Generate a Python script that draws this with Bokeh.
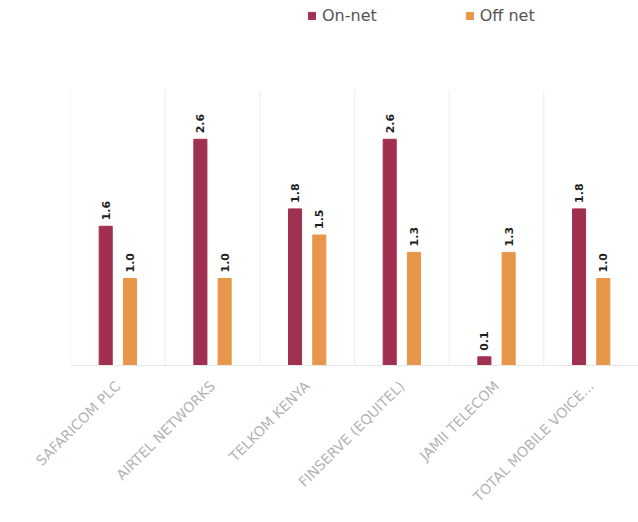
import math
from bokeh.plotting import figure
from bokeh.models import ColumnDataSource, FixedTicker, Range1d, Legend, LegendItem, LabelSet
from bokeh.core.properties import value
from bokeh.embed import file_html
from bokeh.resources import INLINE

categories = ["SAFARICOM PLC", "AIRTEL NETWORKS", "TELKOM KENYA",
              "FINSERVE (EQUITEL)", "JAMII TELECOM", "TOTAL MOBILE VOICE..."]
on_net = [1.6, 2.6, 1.8, 2.6, 0.1, 1.8]
off_net = [1.0, 1.0, 1.5, 1.3, 1.3, 1.0]
series_names = ["On-net", "Off net"]
colors = ["#A0304F", "#E8964A"]

n = len(categories)
dodge = 0.128
bw = 0.138
centers = [i + 0.5 for i in range(n)]
y_top_plot = 4.195      # frame includes the legend strip at the top
y_top_grid = 3.161      # separators stop below the legend strip

src_on = ColumnDataSource(dict(x=[c - dodge for c in centers], top=on_net,
                               lab=[f"{v:.1f}" for v in on_net]))
src_off = ColumnDataSource(dict(x=[c + dodge for c in centers], top=off_net,
                                lab=[f"{v:.1f}" for v in off_net]))

p = figure(width=638, height=522, output_backend="svg", toolbar_location=None,
           x_range=Range1d(0, n), y_range=Range1d(0, y_top_plot),
           min_border_left=70, min_border_right=0, min_border_top=0,
           min_border_bottom=157)
p.outline_line_color = None
p.background_fill_color = "white"
p.xgrid.grid_line_color = None
p.ygrid.grid_line_color = None

bounds = list(range(n + 1))
p.segment(x0=bounds, y0=[0] * len(bounds), x1=bounds, y1=[y_top_grid] * len(bounds),
          line_color="#ececec", line_width=1)

r_on = p.vbar(x="x", top="top", width=bw, source=src_on, color=colors[0])
r_off = p.vbar(x="x", top="top", width=bw, source=src_off, color=colors[1])

for src in (src_on, src_off):
    ls = LabelSet(x="x", y="top", text="lab", source=src, angle=math.pi / 2,
                  text_align="left", text_baseline="middle", y_offset=6,
                  text_font=value("DejaVu Sans"), text_font_style="bold",
                  text_font_size="11px", text_color="#1e1e1e")
    p.add_layout(ls)

p.yaxis.visible = False

p.xaxis.ticker = FixedTicker(ticks=centers)
p.xaxis.major_label_overrides = {c: lab for c, lab in zip(centers, categories)}
p.xaxis.major_label_orientation = math.pi / 4
p.xaxis.major_label_text_font = "DejaVu Sans"
p.xaxis.major_label_text_font_size = "14px"
p.xaxis.major_label_text_color = "#b4b4b4"
p.xaxis.major_label_standoff = 12
p.xaxis.axis_line_color = "#e6e6e6"
p.xaxis.major_tick_line_color = None
p.xaxis.minor_tick_line_color = None

legend = Legend(items=[LegendItem(label=series_names[0], renderers=[r_on]),
                       LegendItem(label=series_names[1], renderers=[r_off])],
                orientation="horizontal", location=(237, 340),
                border_line_color=None, background_fill_alpha=0,
                glyph_width=9, glyph_height=9, label_standoff=6, spacing=88,
                label_text_font="DejaVu Sans", label_text_font_size="16px",
                label_text_color="#555555", padding=0, margin=0)
p.add_layout(legend, "center")

open("out.html", "w").write(file_html(p, INLINE))
